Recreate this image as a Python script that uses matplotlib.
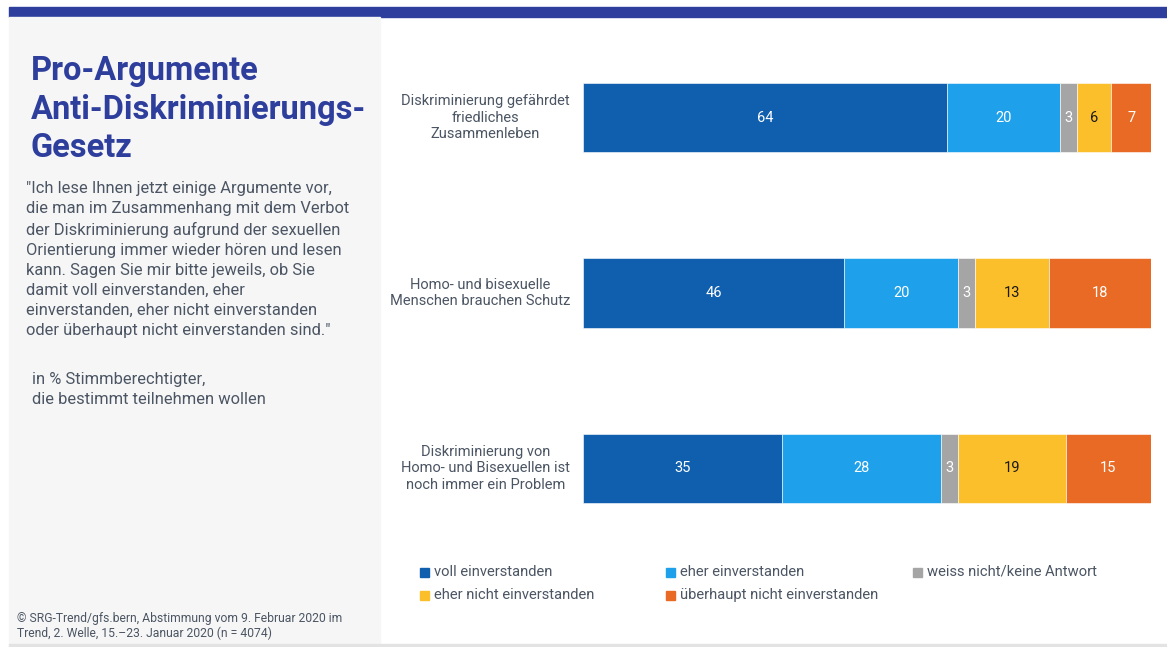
import numpy as np
import matplotlib
matplotlib.use('Agg')
import matplotlib.pyplot as plt
from matplotlib.patches import Rectangle

plt.rcParams['font.family'] = ['Roboto', 'DejaVu Sans']

# survey data (in %)
statements = ['Diskriminierung gefährdet\nfriedliches\nZusammenleben',
              'Homo- und bisexuelle\nMenschen brauchen Schutz',
              'Diskriminierung von\nHomo- und Bisexuellen ist\nnoch immer ein Problem']
answers = ['voll einverstanden', 'eher einverstanden', 'weiss nicht/keine Antwort',
           'eher nicht einverstanden', 'überhaupt nicht einverstanden']
voll = [64, 46, 35]
eher = [20, 20, 28]
weiss_nicht = [3, 3, 3]
eher_nicht = [6, 13, 19]
ueberhaupt_nicht = [7, 18, 15]

colors = ['#0f5fae', '#1ea1ea', '#a5a5a5', '#fbbf2b', '#e96a24']
label_colors = ['white', 'white', 'white', '#1a1a1a', 'white']
title_col = '#2e3e9c'
text_col = '#4b5563'

W, H = 1167, 647
fig = plt.figure(figsize=(W / 100, H / 100), dpi=100)
fig.patch.set_facecolor('white')

def px(x, y):
    return x / W, 1 - y / H

# top banner, left panel, bottom rule
fig.patches.append(Rectangle((9 / W, 1 - 17 / H), 1 - 9 / W, 10 / H,
                             transform=fig.transFigure, color=title_col, zorder=0))
fig.patches.append(Rectangle((9 / W, 1 - 645 / H), 371 / W, 628 / H,
                             transform=fig.transFigure, color='#f6f6f6', zorder=0))
fig.patches.append(Rectangle((9 / W, 0), 1 - 9 / W, 3 / H,
                             transform=fig.transFigure, color='#e3e3e3', zorder=0))

# left panel texts
fig.text(*px(31, 55), 'Pro-Argumente\nAnti-Diskriminierungs-\nGesetz', fontsize=23.5,
         fontweight='bold', color=title_col, va='top', ha='left', linespacing=1.26)
question = ('"Ich lese Ihnen jetzt einige Argumente vor,\n'
            'die man im Zusammenhang mit dem Verbot\n'
            'der Diskriminierung aufgrund der sexuellen\n'
            'Orientierung immer wieder hören und lesen\n'
            'kann. Sagen Sie mir bitte jeweils, ob Sie\n'
            'damit voll einverstanden, eher\n'
            'einverstanden, eher nicht einverstanden\n'
            'oder überhaupt nicht einverstanden sind."')
fig.text(*px(26, 181), question, fontsize=11.9, color=text_col, va='top', ha='left',
         linespacing=1.42)
fig.text(*px(32, 372), 'in % Stimmberechtigter,\ndie bestimmt teilnehmen wollen',
         fontsize=11.9, color=text_col, va='top', ha='left', linespacing=1.42)
fig.text(*px(17, 612), '© SRG-Trend/gfs.bern, Abstimmung vom 9. Februar 2020 im\n'
         'Trend, 2. Welle, 15.–23. Januar 2020 (n = 4074)',
         fontsize=8.7, color=text_col, va='top', ha='left', linespacing=1.2)

# stacked bars
ax = fig.add_axes([583 / W, 1 - 556 / H, 568 / W, 526 / H])
ypos = np.arange(len(statements))
series = [voll, eher, weiss_nicht, eher_nicht, ueberhaupt_nicht]
left = np.zeros(len(statements))
for vals, col, lc in zip(series, colors, label_colors):
    vals = np.array(vals)
    ax.barh(ypos, vals, left=left, height=0.395, color=col, edgecolor='white',
            linewidth=0.4)
    for y, l, v in zip(ypos, left, vals):
        ax.text(l + v / 2, y, str(v), ha='center', va='center', fontsize=10.5, color=lc)
    left += vals

ax.set_xlim(0, 100)
ax.set_ylim(2.5, -0.5)
ax.axis('off')

for y, s in zip(ypos, statements):
    ax.text(-2.3, y, s, ha='right', va='center', multialignment='center',
            fontsize=10.5, color=text_col, linespacing=1.2)

# legend
leg_x = [424, 670, 917, 424, 670]
leg_y = [572, 572, 572, 595, 595]
for name, col, lx, ly in zip(answers, colors, leg_x, leg_y):
    fig.patches.append(Rectangle(((lx - 4) / W, 1 - (ly + 5) / H), 9 / W, 9 / H,
                                 transform=fig.transFigure, color=col))
    fig.text(*px(lx + 10, ly), name, fontsize=10.6, color=text_col, va='center', ha='left')

fig.savefig('out.png', dpi=100, facecolor='white')
